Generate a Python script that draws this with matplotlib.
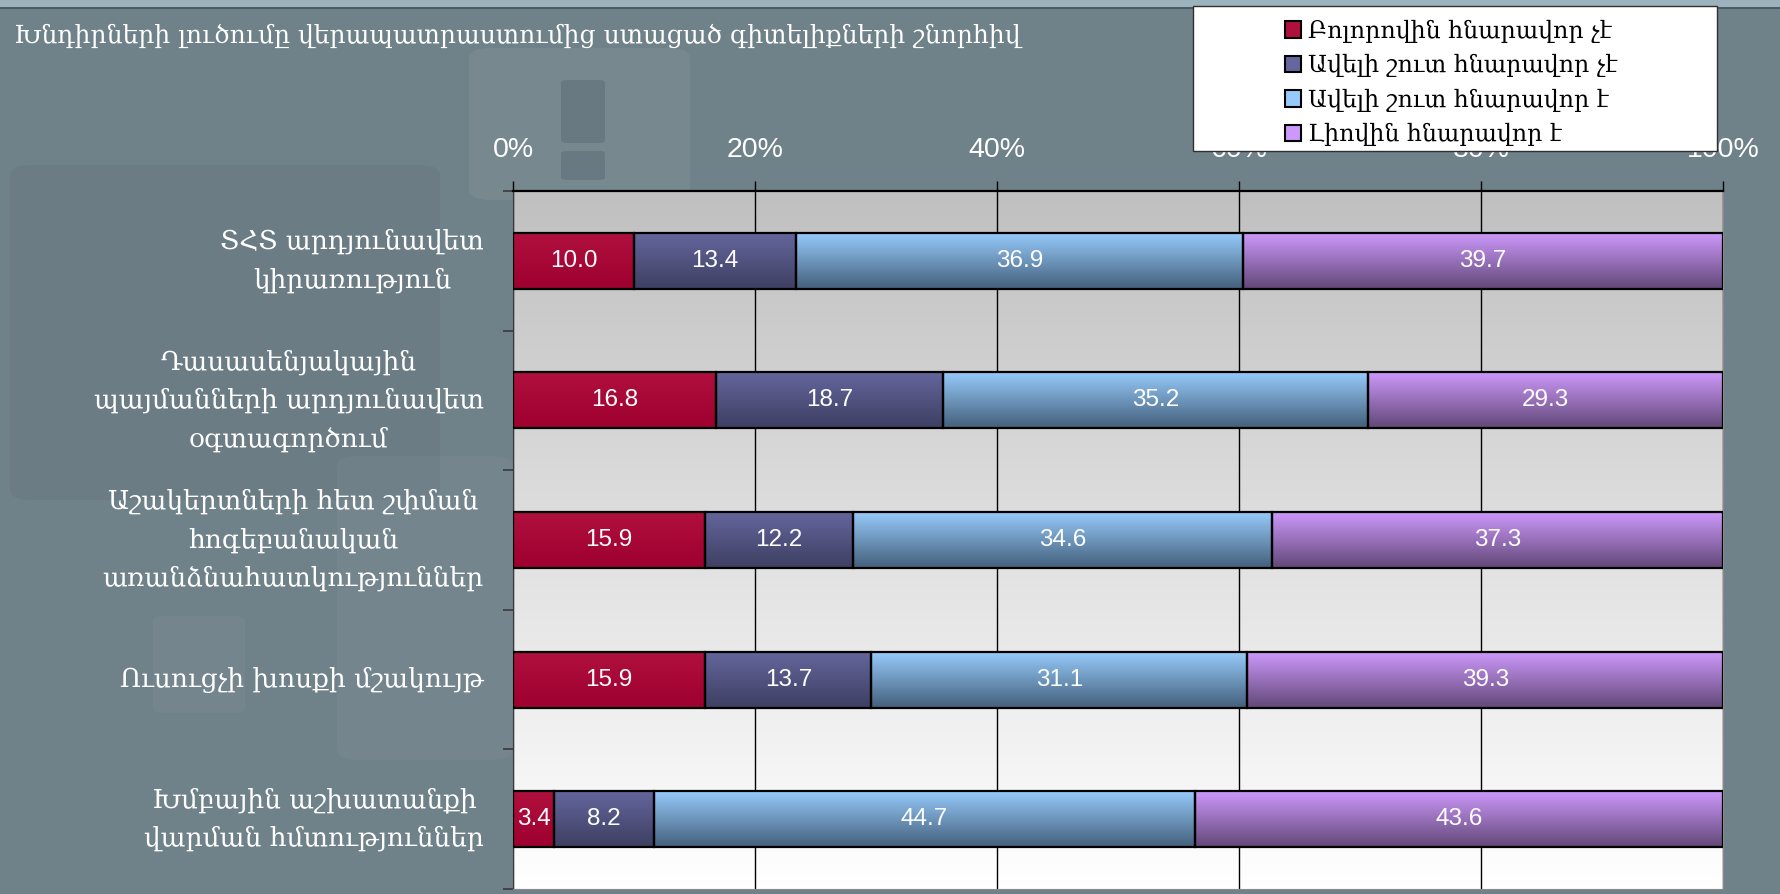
import numpy as np
import matplotlib
matplotlib.use("Agg")
import matplotlib.pyplot as plt
from matplotlib.colors import to_rgb
from matplotlib.patches import Rectangle, FancyBboxPatch

# ---------------------------------------------------------
# === Data ===
# ---------------------------------------------------------
TITLE = "Խնդիրների լուծումը վերապատրաստումից ստացած գիտելիքների շնորհիվ"

CATEGORIES = [
    "ՏՀՏ արդյունավետ\nկիրառություն",
    "Դասասենյակային\nպայմանների արդյունավետ\nօգտագործում",
    "Աշակերտների հետ շփման\nհոգեբանական\nառանձնահատկություններ",
    "Ուսուցչի խոսքի մշակույթ",
    "Խմբային աշխատանքի\nվարման հմտություններ",
]

SERIES_NAMES = [
    "Բոլորովին հնարավոր չէ",
    "Ավելի շուտ հնարավոր չէ",
    "Ավելի շուտ հնարավոր է",
    "Լիովին հնարավոր է",
]

NOT_AT_ALL = [10.0, 16.8, 15.9, 15.9, 3.4]
RATHER_NOT = [13.4, 18.7, 12.2, 13.7, 8.2]
RATHER_YES = [36.9, 35.2, 34.6, 31.1, 44.7]
FULLY = [39.7, 29.3, 37.3, 39.3, 43.6]

X_TICKS = [0, 20, 40, 60, 80, 100]

# ---------------------------------------------------------
# === Style ===
# ---------------------------------------------------------
BG = "#6f8189"
ARM_FONT = ["DejaVu Serif", "DejaVu Sans"]
NUM_FONT = "Liberation Sans"

# (top colour, bottom colour) of each series gradient
GRADIENTS = [
    ("#b0103e", "#9e002f"),
    ("#64669c", "#3e3f62"),
    ("#96cafa", "#44607c"),
    ("#cc98fa", "#624878"),
]

W, H = 1781, 894
fig = plt.figure(figsize=(W / 100, H / 100), dpi=100, facecolor=BG)


def px_box(x0, y0, x1, y1, rounding=0.006, **kw):
    # rounded box given in pixel coordinates from the top-left corner
    fig.add_artist(FancyBboxPatch((x0 / W, 1 - y1 / H), (x1 - x0) / W, (y1 - y0) / H,
                                  boxstyle=f"round,pad=0,rounding_size={rounding}",
                                  transform=fig.transFigure, edgecolor="none",
                                  zorder=0, **kw))


# faint slide decoration behind the chart
px_box(10, 165, 440, 500, rounding=0.012, facecolor="black", alpha=0.035)
px_box(469, 48, 690, 200, rounding=0.012, facecolor="white", alpha=0.06)
px_box(561, 80, 605, 143, rounding=0.003, facecolor="#5f7079", alpha=0.6)
px_box(561, 151, 605, 180, rounding=0.003, facecolor="#5f7079", alpha=0.6)
px_box(337, 456, 513, 760, rounding=0.012, facecolor="white", alpha=0.035)
px_box(153, 616, 245, 713, rounding=0.006, facecolor="white", alpha=0.04)

# top strip of the slide
fig.add_artist(Rectangle((0, 1 - 7 / H), 1, 7 / H, transform=fig.transFigure,
                         facecolor="#9cb3be", edgecolor="none", zorder=0))
fig.add_artist(Rectangle((0, 1 - 9 / H), 1, 2 / H, transform=fig.transFigure,
                         facecolor="#4c5c63", edgecolor="none", zorder=0))

ax = fig.add_axes([513 / W, 5 / H, (1723 - 513) / W, (889 - 191) / H])

# plot-area gradient (grey at top -> white at bottom)
bg_grad = np.linspace(to_rgb("#c0c0c0"), to_rgb("#ffffff"), 128)[:, None, :]
ax.imshow(bg_grad, extent=(0, 1, 0, 1), transform=ax.transAxes,
          aspect="auto", zorder=0, interpolation="bilinear")

data = np.array([NOT_AT_ALL, RATHER_NOT, RATHER_YES, FULLY])
shares = data / data.sum(axis=0) * 100
n = len(CATEGORIES)
y = np.arange(n)
left = np.zeros(n)

for i, (vals, raw) in enumerate(zip(shares, data)):
    bars = ax.barh(y, vals, left=left, height=0.4, facecolor="none",
                   edgecolor="black", linewidth=1.6, zorder=3)
    top_c, bot_c = GRADIENTS[i]
    grad = np.linspace(to_rgb(top_c), to_rgb(bot_c), 64)[:, None, :]
    for bar in bars:
        x0, y0 = bar.get_x(), bar.get_y()
        w, h = bar.get_width(), bar.get_height()
        ax.imshow(grad, extent=(x0, x0 + w, y0 + h, y0), origin="upper",
                  aspect="auto", zorder=2, interpolation="bilinear")
    for yi, l, v, r in zip(y, left, vals, raw):
        ax.text(l + v / 2, yi, f"{r:.1f}", ha="center", va="center",
                color="white", fontsize=17.5, family=NUM_FONT, zorder=4)
    left += vals

ax.set_xlim(0, 100)
ax.set_ylim(n - 0.5, -0.5)

# x axis on top
ax.xaxis.tick_top()
ax.set_xticks(X_TICKS, [f"{t}%" for t in X_TICKS])
ax.tick_params(axis="x", length=7, width=1, color="black", labelcolor="white",
               labelsize=20.5, pad=13)
for lab in ax.get_xticklabels():
    lab.set_family(NUM_FONT)

# categories
ax.set_yticks(y, CATEGORIES)
ax.tick_params(axis="y", which="major", length=0, labelcolor="white", pad=21)
for lab in ax.get_yticklabels():
    lab.set_family(ARM_FONT)
    lab.set_fontsize(19)
    lab.set_multialignment("center")
    lab.set_linespacing(1.65)
    lab.set_verticalalignment("center")
ax.set_yticks(np.arange(-0.5, n), minor=True)
ax.tick_params(axis="y", which="minor", length=7, width=1.2, color="#3a3a3a")

ax.grid(axis="x", color="black", linewidth=1)
ax.set_axisbelow(True)

ax.spines["top"].set_color("black")
ax.spines["top"].set_linewidth(1.6)
ax.spines["left"].set_color("#3a3a3a")
ax.spines["right"].set_color("#8a8a8a")
ax.spines["bottom"].set_color("#8a8a8a")

# title
fig.text(14 / W, 1 - 36 / H, TITLE, color="white", fontsize=18,
         family=ARM_FONT, ha="left", va="center")

# legend box
fig.add_artist(Rectangle((1193 / W, 1 - 151 / H), (1717 - 1193) / W, (151 - 6) / H,
                         transform=fig.transFigure, facecolor="white",
                         edgecolor="#303030", linewidth=1, zorder=5))
handles = [Rectangle((0, 0), 1, 1, facecolor=g[0], edgecolor="black", linewidth=1.5)
           for g in GRADIENTS]
leg = fig.legend(handles, SERIES_NAMES, loc="upper left",
                 bbox_to_anchor=(1268 / W, 1 - 3 / H), frameon=False,
                 prop={"family": ARM_FONT, "size": 17}, handlelength=0.7,
                 handleheight=0.7, handletextpad=0.3, labelspacing=0.48,
                 borderpad=0.2)
leg.set_zorder(6)

plt.savefig("out.png", dpi=100, facecolor=BG)
